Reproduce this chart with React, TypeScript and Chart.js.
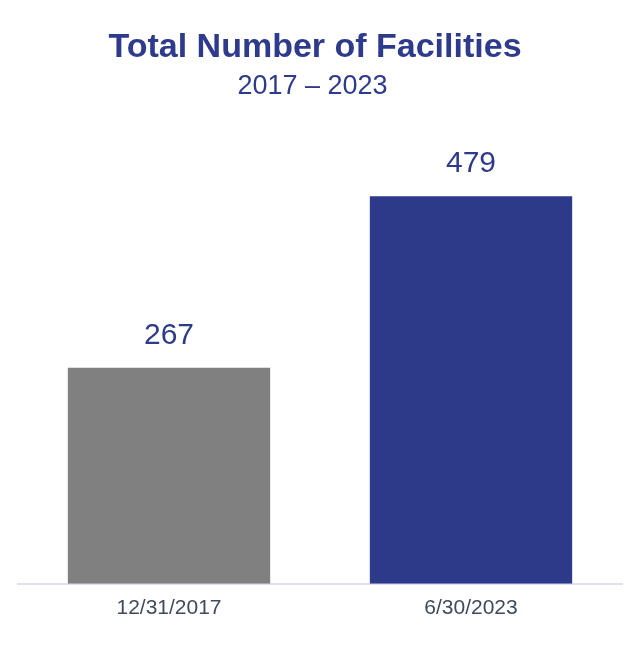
import React, { useEffect, useRef } from "react";
import { Chart, registerables } from "chart.js";

Chart.register(...registerables);

const categories = ["12/31/2017", "6/30/2023"];
const values = [267, 479];
const barColors = ["#808080", "#2D3A8A"];
const titleText = "Total Number of Facilities";
const subtitleText = "2017 – 2023";

const FONT = "'Liberation Sans', Arial, Helvetica, sans-serif";
const BLUE = "#2E3A8C";

const valueLabels = {
  id: "valueLabels",
  afterDatasetsDraw(chart: any) {
    const ctx = chart.ctx;
    const meta = chart.getDatasetMeta(0);
    ctx.save();
    ctx.font = `30px ${FONT}`;
    ctx.fillStyle = BLUE;
    ctx.textAlign = "center";
    ctx.textBaseline = "alphabetic";
    meta.data.forEach((bar: any, i: number) => {
      ctx.fillText(String(values[i]), bar.x, bar.y - 24);
    });
    ctx.restore();
  },
};

// nudge the title blocks slightly left, as in the reference
const titleNudge = {
  id: "titleNudge",
  afterLayout(chart: any) {
    chart.boxes.forEach((b: any) => {
      const t = b.options && b.options.text;
      if (t === titleText) b.left -= 10;
      if (t === subtitleText) b.left -= 15;
    });
  },
};

export default function App() {
  const ref = useRef<HTMLCanvasElement>(null);
  useEffect(() => {
    document.body.style.margin = "0";
    const chart = new Chart(ref.current!, {
      type: "bar",
      data: {
        labels: categories,
        datasets: [
          {
            data: values,
            backgroundColor: barColors,
            borderWidth: 0,
            barPercentage: 0.67,
            categoryPercentage: 1,
          },
        ],
      },
      options: {
        responsive: false,
        animation: false,
        devicePixelRatio: 1,
        layout: { padding: { left: 18, right: 18, top: 0, bottom: 23 } },
        plugins: {
          legend: { display: false },
          tooltip: { enabled: false },
          title: {
            display: true,
            text: titleText,
            color: BLUE,
            font: { family: FONT, size: 34, weight: "bold" },
            padding: { top: 27, bottom: 0 },
          },
          subtitle: {
            display: true,
            text: subtitleText,
            color: BLUE,
            font: { family: FONT, size: 27 },
            padding: { top: 3, bottom: 0 },
          },
        },
        scales: {
          x: {
            grid: { display: false, drawTicks: false },
            border: { display: true, color: "#E0E0F5", width: 2 },
            ticks: {
              color: "#3E4A5E",
              font: { family: FONT, size: 21 },
              padding: 12,
            },
          },
          y: {
            display: false,
            min: 0,
            max: 594,
          },
        },
      },
      plugins: [valueLabels, titleNudge],
    });
    return () => chart.destroy();
  }, []);
  return <canvas ref={ref} width={640} height={656} style={{ display: "block" }} />;
}
